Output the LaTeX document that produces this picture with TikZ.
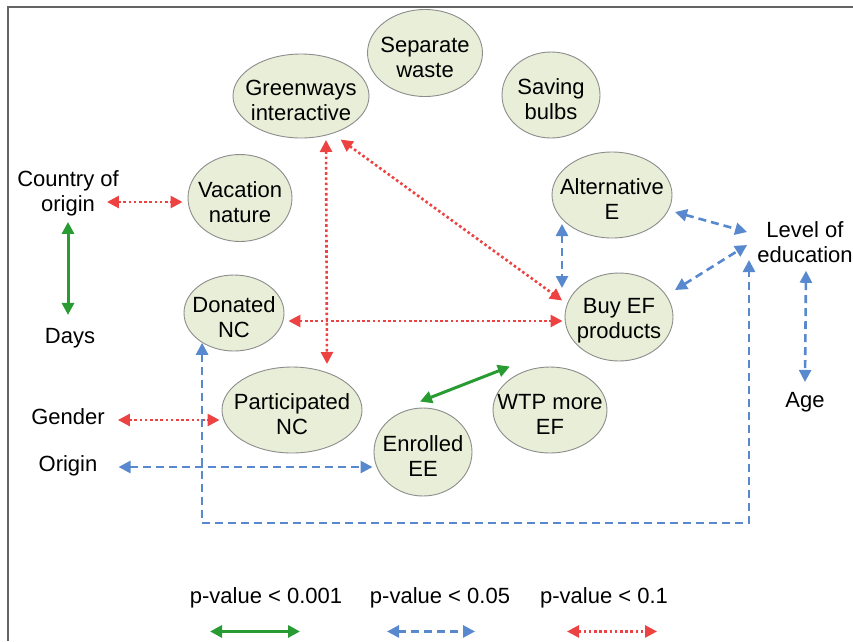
\documentclass[tikz,border=0pt]{standalone}
\usepackage{fontspec}
\setmainfont{Liberation Sans}
\usetikzlibrary{arrows.meta,shapes.geometric,calc}
\definecolor{cgreen}{RGB}{40,155,50}
\definecolor{cblue}{RGB}{88,136,205}
\definecolor{cred}{RGB}{236,66,66}
\definecolor{bubfill}{RGB}{232,238,216}
\definecolor{bubline}{RGB}{140,140,140}
\definecolor{framecol}{RGB}{100,100,100}
\begin{document}
\begin{tikzpicture}[x=1pt,y=-1pt,
  font=\fontsize{22}{25}\selectfont,
  bub/.style={ellipse,draw=bubline,fill=bubfill,line width=0.9pt,inner sep=0pt},
  lab/.style={align=center,inner sep=2pt},
  blab/.style={align=center,inner sep=2pt,yshift=-4pt},
  tipg/.tip={Triangle[length=12pt,width=12pt]},
  sig1/.style={draw=cgreen,line width=3pt,tipg-tipg},
  sig2/.style={draw=cblue,line width=2.6pt,dash pattern=on 8pt off 5pt,tipg-tipg},
  sig3/.style={draw=cred,line width=2.6pt,dash pattern=on 2.6pt off 2.6pt,tipg-tipg}]
\useasboundingbox (0,0) rectangle (853,641);
\draw[framecol,line width=1.5pt] (8,641) -- (8,7) -- (853,7);

% bubbles
\node[bub,minimum width=136pt,minimum height=84pt,label={[blab]center:Greenways\\interactive}] (gw) at (301,96) {};
\node[bub,minimum width=115pt,minimum height=87pt,label={[blab]center:Separate\\waste}] (sw) at (425,53) {};
\node[bub,minimum width=98pt,minimum height=86pt,label={[blab]center:Saving\\bulbs}] (sb) at (551,95) {};
\node[bub,minimum width=104pt,minimum height=87pt,label={[blab]center:Vacation\\nature}] (vac) at (240,198) {};
\node[bub,minimum width=120pt,minimum height=86pt,label={[blab]center:Alternative\\E}] (alt) at (612,195) {};
\node[bub,minimum width=108pt,minimum height=88pt,label={[blab]center:Buy EF\\products}] (buy) at (619,317) {};
\node[bub,minimum width=100pt,minimum height=76pt,label={[blab]center:Donated\\NC}] (don) at (234,313) {};
\node[bub,minimum width=140pt,minimum height=86pt,label={[blab]center:Participated\\NC}] (part) at (292,410) {};
\node[bub,minimum width=98pt,minimum height=88pt,label={[blab]center:Enrolled\\EE}] (enr) at (423,452) {};
\node[bub,minimum width=114pt,minimum height=86pt,label={[blab]center:WTP more\\EF}] (wtp) at (550,410) {};

% plain text nodes
\node[lab] (country) at (68,193) {Country of\\origin};
\node[lab] (days) at (70,338) {Days};
\node[lab] (gender) at (68,417) {Gender};
\node[lab] (origin) at (68,466) {Origin};
\node[lab] (lvl) at (805,242) {Level of\\education};
\node[lab] (age) at (805,402) {Age};

% connectors
\draw[sig3] ($(country.east)+(-14,9)$) -- ($(vac.west)+(-5,4)$);
\draw[sig1] ($(country.south)+(0,4)$) -- ($(days.north)+(-2,-11)$);
\draw[sig3,shorten <=10pt,shorten >=6pt] (gw.-50) -- (buy.166);
\draw[sig3] ($(gw.center)+(25,44)$) -- ($(part.center)+(35,-46)$);
\draw[sig3] ($(don.east)+(4,8)$) -- ($(buy.west)+(-2,4)$);
\draw[sig3] ($(gender.east)+(11,3)$) -- ($(part.west |- gender.east)+(-2,3)$);
\draw[sig2] ($(origin.east)+(19,1)$) -- ($(enr.west |- origin.east)+(-1,1)$);
\draw[sig1] ($(enr.north)+(-3,-6)$) -- ($(wtp.133)+(-7,-8)$);
\draw[sig2] ($(alt.center)+(-50,29)$) -- ($(buy.center)+(-57,-29)$);
\draw[sig2] ($(alt.center)+(63,17)$) -- ($(lvl.west)+(-8,-10)$);
\draw[sig2] ($(buy.center)+(56,-27)$) -- ($(lvl.west)+(-8,3)$);
\draw[sig2] ($(lvl.south)+(1,6)$) -- ($(age.north)+(0,-8)$);
\coordinate (elbow) at (749,523);
\coordinate (lvlin) at (749,260);
\draw[sig2] (don.-137) |- (elbow) -- (lvlin);

% legend
\node[lab] (leg1) at (266,598) {p-value < 0.001};
\node[lab] (leg2) at (440,598) {p-value < 0.05};
\node[lab] (leg3) at (604,598) {p-value < 0.1};
\draw[sig1] ($(leg1.south)+(-56,21)$) -- ($(leg1.south)+(34,21)$);
\draw[sig2] ($(leg2.south)+(-53,21)$) -- ($(leg2.south)+(35,21)$);
\draw[sig3] ($(leg3.south)+(-37,21)$) -- ($(leg3.south)+(53,21)$);
\end{tikzpicture}
\end{document}
